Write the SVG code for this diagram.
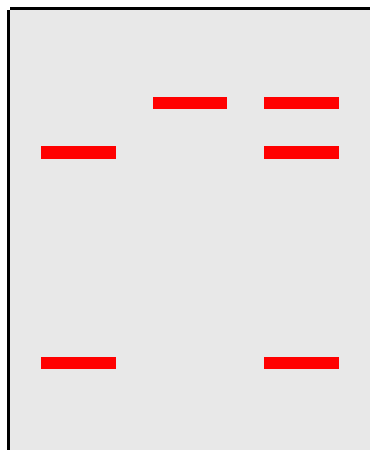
<svg xmlns="http://www.w3.org/2000/svg" width="370" height="450" viewBox="0 0 370 450">
<style>
.bg{fill:#e8e8e8}
.axis{fill:#000}
.band{fill:#ff0000}
</style>
<rect class="bg" x="10" y="10" width="360" height="440"/>
<g id="axes">
<rect class="axis" x="10" y="7" width="360" height="3"/>
<rect class="axis" x="7" y="10" width="3" height="440"/>
</g>
<g id="lane1">
<rect class="band" x="41" y="146" width="75" height="13"/>
<rect class="band" x="41" y="357" width="75" height="12"/>
</g>
<g id="lane2">
<rect class="band" x="153" y="97" width="74" height="12"/>
</g>
<g id="lane3">
<rect class="band" x="264" y="97" width="75" height="12"/>
<rect class="band" x="264" y="146" width="75" height="13"/>
<rect class="band" x="264" y="357" width="75" height="12"/>
</g>
</svg>
